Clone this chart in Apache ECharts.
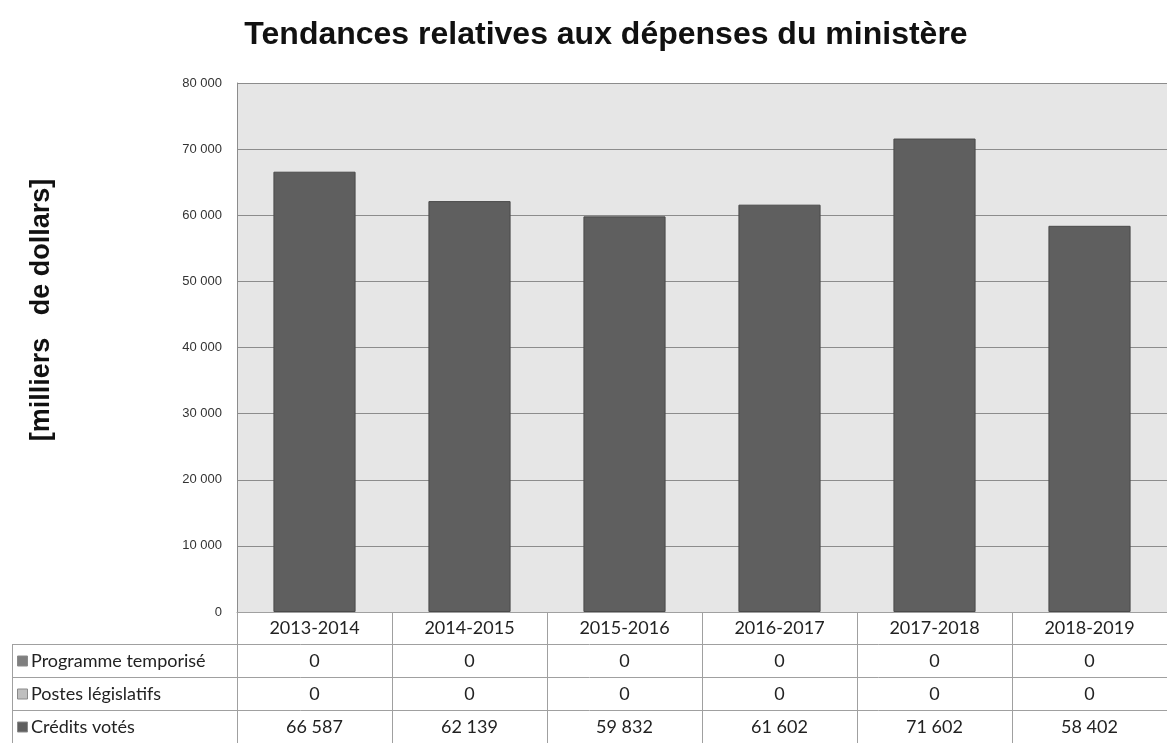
<!DOCTYPE html>
<html>
<head>
    <meta charset="utf-8">
    <title>Tendances relatives aux dépenses du ministère</title>
    <script src="https://cdn.jsdelivr.net/npm/echarts@6/dist/echarts.min.js"></script>
    <style>
        html, body { margin: 0; padding: 0; background: #fff; }
        #main { width: 1167px; height: 743px; }
    </style>
</head>
<body>
    <div id="main"></div>
    <script>
    // données
    var annees = ['2013-2014', '2014-2015', '2015-2016', '2016-2017', '2017-2018', '2018-2019'];
    var programmeTemporise = [0, 0, 0, 0, 0, 0];
    var postesLegislatifs = [0, 0, 0, 0, 0, 0];
    var creditsVotes = [66587, 62139, 59832, 61602, 71602, 58402];
    var seriesNames = ['Programme temporisé', 'Postes législatifs', 'Crédits votés'];
    var seriesColors = ['#7f7f7f', '#bfbfbf', '#5f5f5f'];

    function fmt(v) {
        return String(v).replace(/\B(?=(\d{3})+(?!\d))/g, ' ');
    }

    var tableFont = 'Lato, "Open Sans", sans-serif';
    var tableSize = 18;
    var lineColor = '#a0a0a0';
    var rowH = 33;
    var gridTop = 83, gridBottom = 131, gridLeft = 237;
    var axisY = 743 - gridBottom;

    // lignes du tableau : un axe x par ligne, décalé vers le bas
    var rows = [programmeTemporise, postesLegislatifs, creditsVotes];
    var xAxes = [{
        type: 'category',
        data: annees,
        axisLine: { show: true, lineStyle: { color: lineColor } },
        axisTick: { show: true, length: 131, interval: 0, lineStyle: { color: lineColor } },
        axisLabel: { color: '#222', fontSize: tableSize, fontFamily: tableFont, margin: 7 }
    }];
    rows.forEach(function (r, i) {
        xAxes.push({
            type: 'category',
            position: 'bottom',
            offset: rowH * (i + 1),
            data: r.map(fmt),
            axisLine: { show: false },
            axisTick: { show: false },
            axisLabel: { color: '#222', fontSize: tableSize, fontFamily: tableFont, margin: 7, interval: 0 }
        });
    });

    var graphics = [];
    // traits horizontaux et bord gauche du tableau
    for (var k = 1; k <= 3; k++) {
        graphics.push({
            type: 'line', silent: true,
            shape: { x1: 12, y1: axisY + rowH * k - 0.5, x2: 1167, y2: axisY + rowH * k - 0.5 },
            style: { stroke: lineColor, lineWidth: 1 }
        });
    }
    graphics.push({
        type: 'line', silent: true,
        shape: { x1: 12.5, y1: axisY + rowH - 1, x2: 12.5, y2: 743 },
        style: { stroke: lineColor, lineWidth: 1 }
    });
    seriesNames.forEach(function (n, i) {
        var cy = axisY + rowH * (i + 1) + rowH / 2;
        graphics.push({
            type: 'rect', silent: true,
            shape: { x: 17.5, y: cy - 5.5, width: 10, height: 10 },
            style: { fill: seriesColors[i], stroke: '#8a8a8a', lineWidth: 1 }
        });
        graphics.push({
            type: 'text', silent: true,
            x: 31, y: cy,
            style: { text: n, fill: '#222', font: tableSize + 'px ' + tableFont, textVerticalAlign: 'middle' }
        });
    });
    // titre de l'axe des ordonnées
    graphics.push({
        type: 'text', silent: true,
        x: 42, y: 310, rotation: Math.PI / 2,
        style: {
            text: '[milliers   de dollars]', fill: '#111',
            font: 'bold 27px "Liberation Sans", Arial, sans-serif',
            textAlign: 'center', textVerticalAlign: 'middle'
        }
    });

    var series = [programmeTemporise, postesLegislatifs, creditsVotes].map(function (d, i) {
        return {
            name: seriesNames[i],
            type: 'bar',
            stack: 'total',
            barCategoryGap: '47%',
            data: d,
            itemStyle: { color: seriesColors[i], borderColor: '#4a4a4a', borderWidth: d === creditsVotes ? 1 : 0 }
        };
    });

    var myChart = echarts.init(document.getElementById('main'));
    var option = {
        animation: false,
        title: {
            text: 'Tendances relatives aux dépenses du ministère',
            left: 601, top: 14, textAlign: 'center',
            textStyle: { fontFamily: '"Liberation Sans", Arial, sans-serif', fontWeight: 'bold', fontSize: 32, color: '#111' }
        },
        grid: {
            left: gridLeft, right: 0, top: gridTop, bottom: gridBottom,
            show: true, backgroundColor: '#e6e6e6', borderWidth: 0
        },
        xAxis: xAxes,
        yAxis: {
            type: 'value',
            min: 0, max: 80000, interval: 10000,
            axisLine: { show: true, lineStyle: { color: '#8c8c8c' } },
            axisTick: { show: false },
            splitLine: { lineStyle: { color: '#8c8c8c', width: 1 } },
            axisLabel: {
                color: '#333', fontSize: 13, margin: 15,
                fontFamily: '"Liberation Sans", Arial, sans-serif',
                formatter: function (v) { return fmt(v); }
            }
        },
        graphic: graphics,
        series: series
    };
    myChart.setOption(option);
    window.onresize = myChart.resize;
    </script>
</body>
</html>
